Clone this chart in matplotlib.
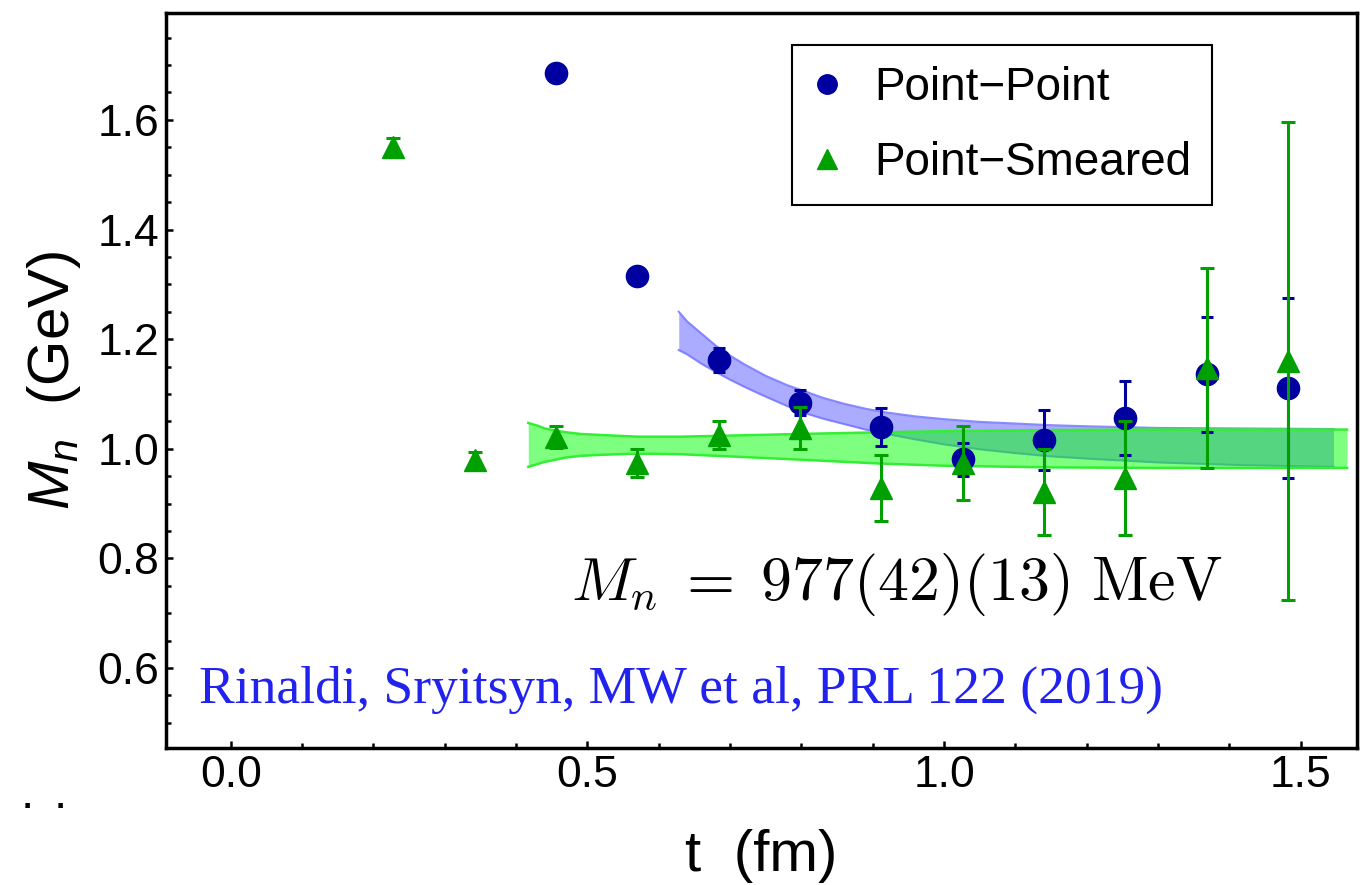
import matplotlib
matplotlib.use('Agg')
import matplotlib.pyplot as plt
from matplotlib.lines import Line2D
import numpy as np

plt.rcParams['font.family'] = ['Liberation Sans', 'DejaVu Sans']
plt.rcParams['mathtext.fontset'] = 'custom'
plt.rcParams['mathtext.it'] = 'Liberation Sans:italic'
plt.rcParams['mathtext.rm'] = 'Liberation Sans'

# time slices (fm)
t_pp = [0.456, 0.570, 0.684, 0.798, 0.912, 1.026, 1.140, 1.254, 1.368, 1.482]
m_pp = [1.686, 1.315, 1.162, 1.084, 1.040, 0.981, 1.016, 1.056, 1.136, 1.111]
e_pp = [0.004, 0.004, 0.022, 0.023, 0.035, 0.030, 0.055, 0.068, 0.105, 0.164]

t_ps = [0.228, 0.342, 0.456, 0.570, 0.684, 0.798, 0.912, 1.026, 1.140, 1.254, 1.368, 1.482]
m_ps = [1.551, 0.980, 1.021, 0.974, 1.025, 1.038, 0.928, 0.974, 0.921, 0.947, 1.147, 1.160]
e_ps = [0.016, 0.014, 0.020, 0.025, 0.026, 0.039, 0.060, 0.067, 0.078, 0.104, 0.183, 0.436]

# fit bands
t_band_pp = [0.628, 0.64, 0.66, 0.68, 0.70, 0.72, 0.75, 0.78, 0.80, 0.83, 0.86, 0.89, 0.92,
             0.96, 1.00, 1.05, 1.10, 1.15, 1.20, 1.30, 1.42, 1.546]
lo_band_pp = [1.180, 1.172, 1.155, 1.140, 1.126, 1.113, 1.095, 1.078, 1.067, 1.055, 1.045,
              1.035, 1.027, 1.017, 1.008, 0.999, 0.992, 0.986, 0.982, 0.975, 0.970, 0.967]
hi_band_pp = [1.250, 1.232, 1.210, 1.188, 1.170, 1.154, 1.133, 1.116, 1.107, 1.093, 1.082,
              1.073, 1.066, 1.059, 1.054, 1.049, 1.046, 1.043, 1.041, 1.038, 1.037, 1.036]

t_band_ps = [0.417, 0.43, 0.44, 0.455, 0.47, 0.49, 0.52, 0.57, 0.63, 0.70, 0.80, 0.91, 1.00,
             1.15, 1.30, 1.565]
lo_band_ps = [0.967, 0.972, 0.976, 0.980, 0.984, 0.987, 0.989, 0.991, 0.990, 0.986, 0.980,
              0.973, 0.969, 0.966, 0.965, 0.965]
hi_band_ps = [1.047, 1.042, 1.037, 1.033, 1.030, 1.027, 1.025, 1.022, 1.022, 1.024, 1.027,
              1.030, 1.032, 1.034, 1.035, 1.035]

blue = '#0000a0'
green = '#00a000'

fig = plt.figure(figsize=(13.67, 8.85), dpi=100)
ax = fig.add_axes([0.1214, 0.1548, 0.8713, 0.8305])

# bands
ax.fill_between(t_band_pp, lo_band_pp, hi_band_pp, color=(0, 0, 1), alpha=0.33, lw=0, zorder=1)
ax.plot(t_band_pp, lo_band_pp, color='#7070ff', lw=1.5, alpha=0.8, zorder=1)
ax.plot(t_band_pp, hi_band_pp, color='#7070ff', lw=1.5, alpha=0.8, zorder=1)
ax.fill_between(t_band_ps, lo_band_ps, hi_band_ps, color=(0, 1, 0), alpha=0.5, lw=0, zorder=2)
ax.plot(t_band_ps, lo_band_ps, color='#33ee33', lw=1.8, zorder=2)
ax.plot(t_band_ps, hi_band_ps, color='#33ee33', lw=1.8, zorder=2)

# data
ax.errorbar(t_pp, m_pp, yerr=e_pp, fmt='o', color=blue, ms=16, elinewidth=2.2,
            capsize=4, capthick=2.2, zorder=3)
ax.errorbar(t_ps, m_ps, yerr=e_ps, fmt='^', color=green, ms=16, elinewidth=2.2,
            capsize=5, capthick=2.2, zorder=4)

ax.set_xlim(-0.091, 1.579)
ax.set_ylim(0.454, 1.795)
ax.set_xticks([0.0, 0.5, 1.0, 1.5])
ax.set_xticklabels(['0.0', '0.5', '1.0', '1.5'])
ax.set_xticks(np.arange(-0.0, 1.58, 0.1), minor=True)
ax.set_yticks([0.6, 0.8, 1.0, 1.2, 1.4, 1.6])
ax.set_yticklabels(['0.6', '0.8', '1.0', '1.2', '1.4', '1.6'])
ax.set_yticks(np.arange(0.5, 1.79, 0.05), minor=True)
ax.tick_params(which='both', direction='in', top=False, right=False, labelsize=32, width=1.8)
ax.tick_params(which='major', length=5, pad=5)
ax.tick_params(which='minor', length=3.5)
for s in ax.spines.values():
    s.set_linewidth(2.5)

ax.set_xlabel('t  (fm)', fontsize=42)
ax.xaxis.set_label_coords(0.5, -0.11)
ax.set_ylabel('$M_n$  (GeV)', fontsize=42)
ax.yaxis.set_label_coords(-0.07, 0.5)

handles = [Line2D([], [], ls='none', marker='o', color=blue, ms=14),
           Line2D([], [], ls='none', marker='^', color=green, ms=14)]
leg = ax.legend(handles, ['Point\u2212Point', 'Point\u2212Smeared'], loc='upper right',
                bbox_to_anchor=(0.878, 0.9565), borderaxespad=0, fontsize=33,
                fancybox=False, framealpha=1, edgecolor='black',
                handlelength=0.62, handletextpad=0.72, labelspacing=0.68, borderpad=0.45)
leg.get_frame().set_linewidth(1.5)

ax.text(0.6135, 0.222, r'$M_n\;=\;977(42)(13)\ \mathrm{MeV}$', transform=ax.transAxes,
        ha='center', va='center', color='black', fontsize=44.5, math_fontfamily='cm')
ax.text(0.028, 0.079, 'Rinaldi, Sryitsyn, MW et al, PRL 122 (2019)', transform=ax.transAxes,
        ha='left', va='center', color='#2222ee', family='Liberation Serif', fontsize=38.5)

# stray dots at the lower left of the slide
fig.text(0.015, 0.1, '.', fontsize=34, ha='left', va='center')
fig.text(0.039, 0.1, '.', fontsize=34, ha='left', va='center')

plt.savefig('out.png', dpi=100)
